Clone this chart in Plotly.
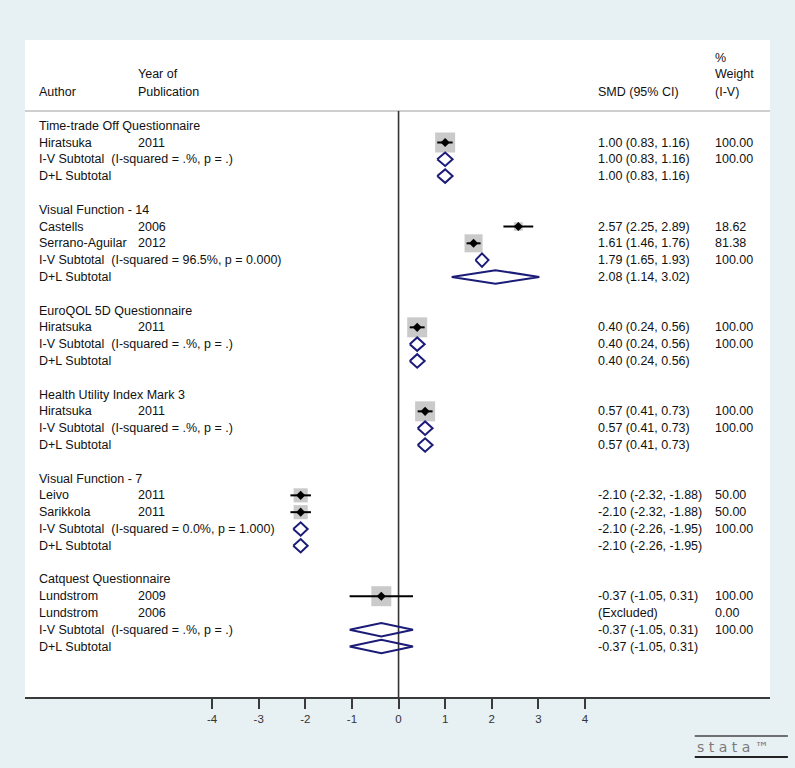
import plotly.graph_objects as go
import math

# ---------------- data ----------------
groups = ["Time-trade Off Questionnaire", "Visual Function - 14", "EuroQOL 5D Questionnaire",
          "Health Utility Index Mark 3", "Visual Function - 7", "Catquest Questionnaire"]

# studies: group index, author, year, smd, lo, hi, weight (None = excluded)
study_group = [0, 1, 1, 2, 3, 4, 4, 5, 5]
study_author = ["Hiratsuka", "Castells", "Serrano-Aguilar", "Hiratsuka", "Hiratsuka",
                "Leivo", "Sarikkola", "Lundstrom", "Lundstrom"]
study_year = ["2011", "2006", "2012", "2011", "2011", "2011", "2011", "2009", "2006"]
study_smd = [1.00, 2.57, 1.61, 0.40, 0.57, -2.10, -2.10, -0.37, None]
study_lo = [0.83, 2.25, 1.46, 0.24, 0.41, -2.32, -2.32, -1.05, None]
study_hi = [1.16, 2.89, 1.76, 0.56, 0.73, -1.88, -1.88, 0.31, None]
study_w = [100.00, 18.62, 81.38, 100.00, 100.00, 50.00, 50.00, 100.00, 0.00]

# subtotals per group
iv_label = ["I-V Subtotal  (I-squared = .%, p = .)", "I-V Subtotal  (I-squared = 96.5%, p = 0.000)",
            "I-V Subtotal  (I-squared = .%, p = .)", "I-V Subtotal  (I-squared = .%, p = .)",
            "I-V Subtotal  (I-squared = 0.0%, p = 1.000)", "I-V Subtotal  (I-squared = .%, p = .)"]
iv_smd = [1.00, 1.79, 0.40, 0.57, -2.10, -0.37]
iv_lo = [0.83, 1.65, 0.24, 0.41, -2.26, -1.05]
iv_hi = [1.16, 1.93, 0.56, 0.73, -1.95, 0.31]
dl_smd = [1.00, 2.08, 0.40, 0.57, -2.10, -0.37]
dl_lo = [0.83, 1.14, 0.24, 0.41, -2.26, -1.05]
dl_hi = [1.16, 3.02, 0.56, 0.73, -1.95, 0.31]

tick_vals = [-4, -3, -2, -1, 0, 1, 2, 3, 4]

# ---------------- styling constants ----------------
FONT = "Liberation Sans, Arial, sans-serif"
FS = 12.5
NAVY = "#1b1b78"
GRAY = "#b4b4b4"
BG = "#e7f0f3"
X_AUTHOR, X_YEAR, X_SMD, X_W = -7.757, -5.633, 4.238, 6.749
XR = [-8.015, 7.97]
YR = [34.0, -5.10]
DH = 0.40  # diamond half height in rows

def fmt(v):
    return f"{v:.2f}"

# build row layout
rows = []  # (kind, payload)
for g in range(len(groups)):
    rows.append(("group", g))
    for i, sg in enumerate(study_group):
        if sg == g:
            rows.append(("study", i))
    rows.append(("iv", g))
    rows.append(("dl", g))
    if g < len(groups) - 1:
        rows.append(("blank", None))

fig = go.Figure()
ann = []

def txt(x, y, s):
    ann.append(dict(x=x, y=y, xref="x", yref="y", text=s, showarrow=False,
                    xanchor="left", yanchor="middle",
                    font=dict(family=FONT, size=FS, color="#111111")))

sq_x, sq_y, sq_s = [], [], []
ci_x, ci_y = [], []
pt_x, pt_y = [], []
dia_x, dia_y = [], []

for r, (kind, p) in enumerate(rows):
    if kind == "group":
        txt(X_AUTHOR, r, groups[p])
    elif kind == "study":
        i = p
        txt(X_AUTHOR, r, study_author[i])
        txt(X_YEAR, r, study_year[i])
        if study_smd[i] is None:
            txt(X_SMD, r, "(Excluded)")
        else:
            txt(X_SMD, r, f"{fmt(study_smd[i])} ({fmt(study_lo[i])}, {fmt(study_hi[i])})")
            sq_x.append(study_smd[i]); sq_y.append(r)
            sq_s.append(20 * math.sqrt(study_w[i] / 100.0))
            ci_x += [study_lo[i], study_hi[i], None]; ci_y += [r, r, None]
            pt_x.append(study_smd[i]); pt_y.append(r)
        txt(X_W, r, fmt(study_w[i]))
    elif kind == "iv":
        txt(X_AUTHOR, r, iv_label[p])
        txt(X_SMD, r, f"{fmt(iv_smd[p])} ({fmt(iv_lo[p])}, {fmt(iv_hi[p])})")
        txt(X_W, r, "100.00")
        dia_x += [iv_lo[p], iv_smd[p], iv_hi[p], iv_smd[p], iv_lo[p], None]
        dia_y += [r, r - DH, r, r + DH, r, None]
    elif kind == "dl":
        txt(X_AUTHOR, r, "D+L Subtotal")
        txt(X_SMD, r, f"{fmt(dl_smd[p])} ({fmt(dl_lo[p])}, {fmt(dl_hi[p])})")
        dia_x += [dl_lo[p], dl_smd[p], dl_hi[p], dl_smd[p], dl_lo[p], None]
        dia_y += [r, r - DH, r, r + DH, r, None]

# header
txt(X_AUTHOR, -2.0, "Author")
txt(X_YEAR, -3.05, "Year of")
txt(X_YEAR, -2.0, "Publication")
txt(X_SMD, -2.0, "SMD (95% CI)")
txt(X_W, -4.05, "%")
txt(X_W, -3.05, "Weight")
txt(X_W, -2.0, "(I-V)")

# header separator and null line
fig.add_shape(type="line", xref="paper", yref="y", x0=0, x1=1, y0=-0.875, y1=-0.875,
              line=dict(color="#cfcfcf", width=2), layer="below")
fig.add_shape(type="line", xref="x", yref="y", x0=0, x1=0, y0=-0.875, y1=YR[0],
              line=dict(color="#333333", width=1.6), layer="below")

fig.add_trace(go.Scatter(x=sq_x, y=sq_y, mode="markers", hoverinfo="skip",
                         marker=dict(symbol="square", size=sq_s, color=GRAY, line=dict(width=0))))
fig.add_trace(go.Scatter(x=ci_x, y=ci_y, mode="lines", hoverinfo="skip",
                         line=dict(color="black", width=2)))
fig.add_trace(go.Scatter(x=pt_x, y=pt_y, mode="markers", hoverinfo="skip",
                         marker=dict(symbol="diamond", size=7, color="black")))
fig.add_trace(go.Scatter(x=dia_x, y=dia_y, mode="lines", hoverinfo="skip",
                         line=dict(color=NAVY, width=2)))

# Stata logo
fig.add_shape(type="line", xref="paper", yref="paper", x0=0.899, x1=1.024, y0=-0.0594, y1=-0.0594,
              line=dict(color="#444444", width=1.5))
fig.add_shape(type="line", xref="paper", yref="paper", x0=0.899, x1=1.024, y0=-0.0913, y1=-0.0913,
              line=dict(color="#222222", width=2))
ann.append(dict(x=0.899, y=-0.0755, xref="paper", yref="paper", showarrow=False,
                text="s t a t a ™", xanchor="left", yanchor="middle",
                font=dict(family="DejaVu Sans", size=14, color="#7a7a7a")))

fig.update_layout(
    width=795, height=768,
    margin=dict(l=25, r=25, t=40, b=71),
    paper_bgcolor=BG, plot_bgcolor="white",
    showlegend=False,
    annotations=ann,
    xaxis=dict(range=XR, tickvals=tick_vals, ticktext=[str(v) for v in tick_vals],
               showgrid=False, zeroline=False, showline=True, linecolor="#3a3a3a", linewidth=2,
               ticks="outside", ticklen=10, tickwidth=1.5, tickcolor="#3a3a3a",
               tickfont=dict(family=FONT, size=11.5, color="#333333"), fixedrange=True),
    yaxis=dict(range=YR, showgrid=False, zeroline=False, showticklabels=False, showline=False,
               fixedrange=True),
)

fig.write_html("out.html")
